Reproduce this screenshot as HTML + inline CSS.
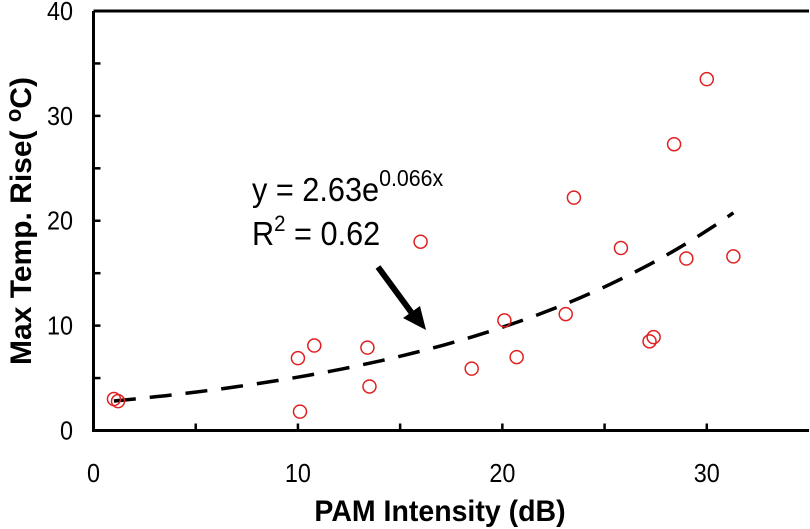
<!DOCTYPE html>
<html><head><meta charset="utf-8"><style>
body{margin:0;background:#fff}
svg{display:block;font-family:"Liberation Sans",Arial,sans-serif}
</style></head><body>
<svg id="chart" width="810" height="529" viewBox="0 0 810 529"></svg>
<script>
const xs=[1.0,1.2,10.0,10.1,10.8,13.4,13.5,16.0,18.5,20.1,20.7,23.1,23.5,25.8,27.2,27.4,28.4,29.0,30.0,31.3];
const ys=[3.0,2.8,6.9,1.8,8.1,7.9,4.2,18.0,5.9,10.5,7.0,11.1,22.2,17.4,8.5,8.9,27.3,16.4,33.5,16.6];
const xTickLabels=[0,10,20,30];
const yTickLabels=[0,10,20,30,40];
const fitA=2.63, fitB=0.066, fitStart=1.0, fitEnd=31.3;
const NS="http://www.w3.org/2000/svg";
const svg=document.getElementById('chart');
const X0=93.5,X1=809,Y0=430.5,Y1=11;
const sx=v=>X0+v*(X1-X0)/35;
const sy=v=>Y0-v*(Y0-Y1)/40;
function mk(t,a,p){const e=document.createElementNS(NS,t);for(const k in a)e.setAttribute(k,a[k]);(p||svg).appendChild(e);return e;}
let f=mk('path',{d:`M${X0},${Y1} L${X1},${Y1} M${X0},${Y1} L${X0},${Y0} L${X1},${Y0}`,stroke:'#000','stroke-width':3,fill:'none'});


for(let v=5;v<35;v+=5){let t=mk('line',{x1:sx(v),x2:sx(v),y1:Y0,y2:Y0-7,stroke:'#000','stroke-width':2.5});

}
for(let v=5;v<40;v+=5){let t=mk('line',{x1:X0,x2:X0+7,y1:sy(v),y2:sy(v),stroke:'#000','stroke-width':2.5});

}
xTickLabels.forEach(v=>{let t=mk('text',{x:sx(v),y:482,'text-anchor':'middle','font-size':26,transform:`translate(${sx(v)},0) scale(0.9,1) translate(${-sx(v)},0)`});t.textContent=v;

});
yTickLabels.forEach(v=>{let t=mk('text',{x:73,y:sy(v)+9,'text-anchor':'end','font-size':26,transform:`translate(73,0) scale(0.9,1) translate(-73,0)`});t.textContent=v;

});
let d='';for(let i=0;i<=60;i++){const x=fitStart+(fitEnd-fitStart)*i/60;d+=(i?'L':'M')+sx(x).toFixed(1)+','+sy(fitA*Math.exp(fitB*x)).toFixed(1);}
let tr=mk('path',{d,stroke:'#000','stroke-width':3.5,fill:'none','stroke-dasharray':'22,14'});


xs.forEach((x,i)=>{let c=mk('circle',{cx:sx(x),cy:sy(ys[i]),r:6.5,fill:'none',stroke:'#e02020','stroke-width':1.5});

});
</script>
<script>
const s=document.getElementById('chart');
s.insertAdjacentHTML('beforeend',`
<text x="252" y="201" font-size="33" transform="translate(252,0) scale(0.93,1) translate(-252,0)">y = 2.63e<tspan dy="-15" font-size="23">0.066x</tspan></text>
<text x="252" y="245" font-size="33" transform="translate(252,0) scale(0.93,1) translate(-252,0)">R<tspan dy="-14" font-size="22">2</tspan><tspan dy="14"> = 0.62</tspan></text>
<g>
<line x1="378" y1="267" x2="414" y2="316" stroke="#000" stroke-width="6"/>
<polygon points="426,330 403,318 420,306" fill="#000"/>
</g>
<text x="440" y="521" text-anchor="middle" font-size="30" font-weight="bold" transform="translate(440,0) scale(0.95,1) translate(-440,0)">PAM Intensity (dB)</text>
<text transform="translate(31,221) rotate(-90)" text-anchor="middle" font-size="30" font-weight="bold">Max Temp. Rise( <tspan dy="-10" font-size="22">o</tspan><tspan dy="10">C)</tspan></text>
`);
</script>
</body></html>
